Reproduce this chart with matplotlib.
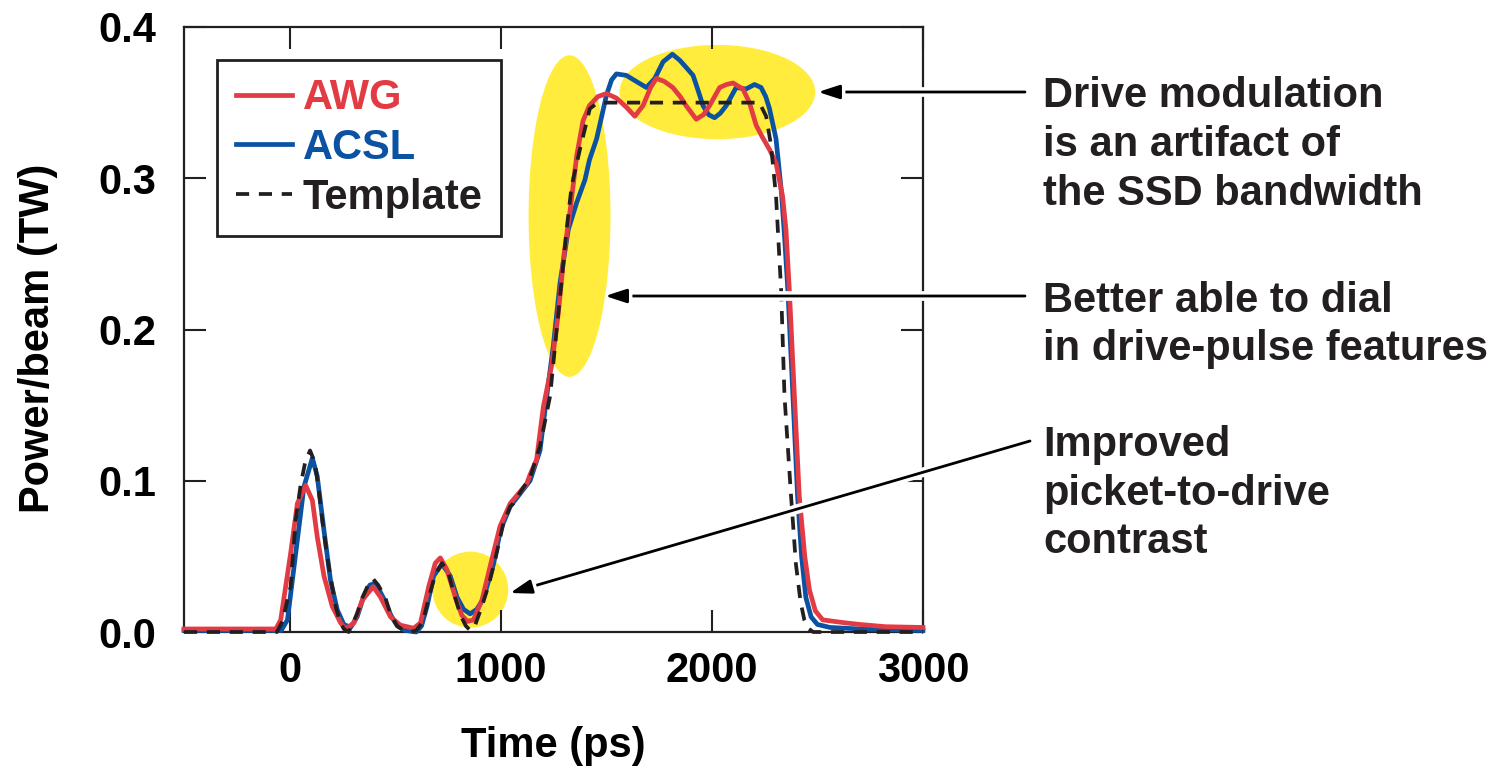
import matplotlib
matplotlib.use("Agg")
import matplotlib.pyplot as plt
import matplotlib.patheffects as pe
from matplotlib.patches import Ellipse

plt.rcParams['font.family'] = ['Liberation Sans', 'DejaVu Sans']
plt.rcParams['font.weight'] = 'bold'

# template pulse (ps, TW)
template_t = [-500, -200, -60, -34, 5, 29, 52, 75, 97, 120, 140, 155, 180, 202, 220, 238, 257, 280,
              290, 320, 344, 375, 396, 420, 454, 480, 510, 540, 572, 600,
              632, 659, 690, 722, 750, 785, 810, 835, 856, 880, 911, 945, 974, 1013, 1045, 1060, 1100,
              1139, 1186, 1234, 1265, 1289, 1312, 1336, 1375, 1422, 1450, 1470, 2225, 2257, 2280,
              2304, 2328, 2344, 2375, 2398, 2420, 2438, 2460, 2480, 3000]
template_p = [0.0, 0.0, 0.0, 0.007, 0.03, 0.074, 0.097, 0.113, 0.12, 0.112, 0.092, 0.074, 0.048, 0.030, 0.016, 0.007, 0.002, 0.0,
              0.003, 0.012, 0.0225, 0.032, 0.035, 0.031, 0.0225, 0.011, 0.004, 0.001, 0.0, 0.001,
              0.007, 0.0225, 0.038, 0.0455, 0.040, 0.0225, 0.011, 0.004, 0.001, 0.005, 0.017, 0.032, 0.048, 0.072, 0.083, 0.085, 0.094,
              0.102, 0.123, 0.156, 0.200, 0.233, 0.266, 0.295, 0.319, 0.346, 0.349, 0.35, 0.35, 0.341, 0.322,
              0.288, 0.226, 0.156, 0.090, 0.045, 0.020, 0.008, 0.002, 0.0, 0.0]

# AWG measured pulse
awg_t = [-500, -65, -42, 5, 37, 76, 108, 131, 163, 202, 242, 265,
         305, 344, 396, 431, 478, 525, 588,
         620, 659, 690, 714, 746, 785, 816, 843, 871, 911, 958, 997, 1045, 1123, 1139, 1170,
         1202, 1241, 1273, 1300, 1330, 1360, 1390, 1420, 1460, 1501, 1548, 1595, 1635, 1674, 1710,
         1737, 1775, 1815, 1850, 1878, 1926, 1960, 1989, 2037, 2070, 2100, 2147, 2178, 2210, 2240,
         2273, 2304, 2335, 2351, 2367, 2391, 2414, 2440, 2462, 2490, 2525, 2580, 2635, 2700, 2823, 3000]
awg_p = [0.002, 0.002, 0.008, 0.052, 0.085, 0.097, 0.087, 0.063, 0.037, 0.017, 0.006, 0.002,
         0.006, 0.021, 0.030, 0.023, 0.010, 0.0045, 0.0025,
         0.006, 0.030, 0.0455, 0.049, 0.041, 0.023, 0.011, 0.007, 0.008, 0.021, 0.048, 0.070, 0.085, 0.098, 0.104, 0.114,
         0.149, 0.176, 0.211, 0.250, 0.280, 0.315, 0.338, 0.348, 0.354, 0.356, 0.353, 0.347, 0.341, 0.348, 0.360,
         0.366, 0.364, 0.360, 0.354, 0.348, 0.339, 0.342, 0.348, 0.360, 0.362, 0.363, 0.359, 0.350, 0.335, 0.327,
         0.319, 0.310, 0.288, 0.266, 0.226, 0.156, 0.090, 0.050, 0.028, 0.014, 0.008, 0.007, 0.006, 0.005, 0.0035, 0.003]

# ACSL measured pulse
acsl_t = [-500, -40, -10, 29, 68, 108, 131, 163, 194, 226, 257, 289,
          320, 350, 380, 400, 420, 450, 480, 510, 550, 600,
          625, 651, 682, 722, 761, 793, 824, 855, 887, 918, 966, 1000, 1045, 1100, 1139, 1186,
          1218, 1249, 1281, 1320, 1360, 1399, 1420, 1454, 1480, 1501, 1525, 1548, 1595, 1642, 1690,
          1730, 1769, 1813, 1848, 1880, 1911, 1935, 1958, 1985, 2013, 2040, 2068, 2115, 2162, 2202,
          2233, 2255, 2273, 2304, 2330, 2345, 2360, 2384, 2406, 2425, 2445, 2470, 2500, 2560, 2700, 3000]
acsl_p = [0.001, 0.001, 0.008, 0.052, 0.096, 0.115, 0.103, 0.067, 0.034, 0.0146, 0.005, 0.003,
          0.010, 0.023, 0.031, 0.032, 0.029, 0.021, 0.011, 0.004, 0.001, 0.0,
          0.004, 0.017, 0.037, 0.045, 0.037, 0.023, 0.015, 0.012, 0.015, 0.022, 0.045, 0.068, 0.083, 0.093, 0.100, 0.120,
          0.156, 0.189, 0.231, 0.266, 0.284, 0.299, 0.312, 0.326, 0.342, 0.355, 0.365, 0.369, 0.368, 0.364, 0.360,
          0.366, 0.377, 0.382, 0.378, 0.373, 0.368, 0.358, 0.348, 0.342, 0.340, 0.343, 0.348, 0.360, 0.359, 0.362,
          0.360, 0.354, 0.346, 0.326, 0.290, 0.260, 0.226, 0.156, 0.090, 0.050, 0.023, 0.010, 0.005, 0.003, 0.002, 0.001]

x_ticks = [0, 1000, 2000, 3000]
y_ticks = [0.0, 0.1, 0.2, 0.3, 0.4]

RED = '#E23B43'
BLUE = '#0B52A2'
YELLOW = '#FFEC3C'
W, H = 1503, 780

fig = plt.figure(figsize=(W / 100, H / 100), dpi=100)
ax = fig.add_axes([184 / W, 1 - 632 / H, (923 - 184) / W, (632 - 27) / H])

# highlighted regions
ax.add_patch(Ellipse((856, 0.028), 359, 0.0503, color=YELLOW, lw=0, zorder=1))
ax.add_patch(Ellipse((1326, 0.275), 388, 0.2126, color=YELLOW, lw=0, zorder=1))
ax.add_patch(Ellipse((2026, 0.357), 927, 0.0623, color=YELLOW, lw=0, zorder=1))

ax.plot(acsl_t, acsl_p, color=BLUE, lw=3.4, label='ACSL', zorder=3, clip_on=False,
        solid_joinstyle='round')
ax.plot(awg_t, awg_p, color=RED, lw=3.4, label='AWG', zorder=4, clip_on=False,
        solid_joinstyle='round')
ax.plot(template_t, template_p, color='#231F20', lw=2.7, ls=(0, (3.5, 2.6)), label='Template',
        zorder=5, clip_on=False)

ax.set_xlim(-500, 3000)
ax.set_ylim(0, 0.4)
ax.set_xticks(x_ticks)
ax.set_yticks(y_ticks)
ax.set_xticklabels([str(v) for v in x_ticks])
ax.set_yticklabels(['%.1f' % v for v in y_ticks])
ax.tick_params(direction='in', length=16, width=1.5, top=True, right=True,
               labelsize=30, color='#231F20')
ax.tick_params(axis='x', pad=14)
ax.tick_params(axis='y', pad=20)
for s in ax.spines.values():
    s.set_linewidth(1.6)
    s.set_color('#231F20')

ax.set_xlabel('Time (ps)', fontsize=30, fontweight='bold')
ax.set_ylabel('Power/beam (TW)', fontsize=30, fontweight='bold')
ax.xaxis.set_label_coords(0.5, -0.155)
ax.yaxis.set_label_coords(-0.17, 0.486)

h = ax.get_legend_handles_labels()[0]
order = [1, 0, 2]
leg = ax.legend([h[i] for i in order], ['AWG', 'ACSL', 'Template'], loc='upper left',
                bbox_to_anchor=(0.045, 0.946), borderaxespad=0, fontsize=30,
                handlelength=1.35, handletextpad=0.25, labelspacing=0.23, borderpad=0.45,
                fancybox=False, framealpha=1, edgecolor='#231F20',
                labelcolor=[RED, BLUE, '#231F20'])
leg.get_frame().set_linewidth(2)
for t in leg.get_texts():
    t.set_fontweight('bold')

# annotation text, one line per call (pixel baselines)
notes = [
    ('Drive modulation', 107), ('is an artifact of', 156), ('the SSD bandwidth', 205),
    ('Better able to dial', 312), ('in drive-pulse features', 360),
    ('Improved', 456), ('picket-to-drive', 505), ('contrast', 553),
]
for txt, yb in notes:
    fig.text(1043 / W, 1 - yb / H, txt, fontsize=30, fontweight='bold', color='#231F20',
             ha='left', va='baseline')

arrows = [((1025, 92), (818, 92)), ((1025, 296), (605, 296)), ((1030, 441), (510, 593))]
for (x0, y0), (x1, y1) in arrows:
    ax.annotate('', xy=(x1, H - y1), xycoords='figure pixels',
                xytext=(x0, H - y0), textcoords='figure pixels',
                arrowprops=dict(arrowstyle='-|>,head_length=1.3,head_width=0.42', color='black',
                                lw=2, shrinkA=0, shrinkB=0,
                                path_effects=[pe.withStroke(linewidth=7, foreground='white')]),
                zorder=10, annotation_clip=False)

fig.savefig('out.png', dpi=100)
